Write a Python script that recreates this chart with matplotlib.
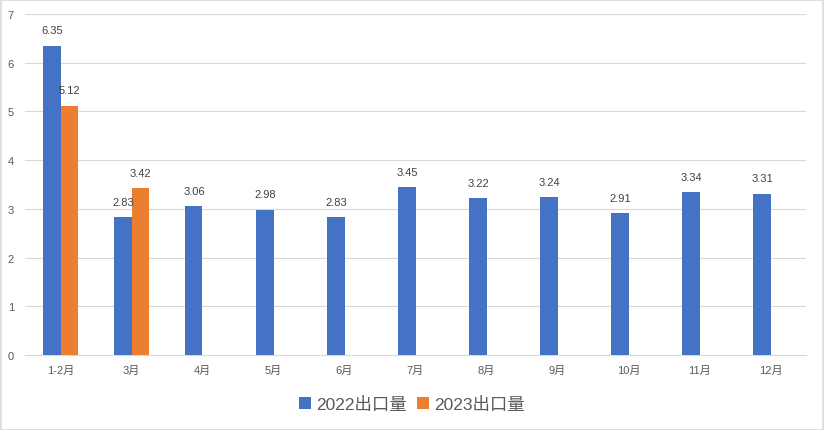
import matplotlib
matplotlib.use("Agg")
import matplotlib.pyplot as plt
import numpy as np

plt.rcParams['font.family'] = ['Liberation Sans', 'Noto Sans CJK SC', 'DejaVu Sans']

categories = ['1-2月', '3月', '4月', '5月', '6月', '7月', '8月', '9月', '10月', '11月', '12月']
exports_2022 = [6.35, 2.83, 3.06, 2.98, 2.83, 3.45, 3.22, 3.24, 2.91, 3.34, 3.31]
exports_2023 = [5.12, 3.42]
series_names = ['2022出口量', '2023出口量']
yticks = [0, 1, 2, 3, 4, 5, 6, 7]

blue = '#4472C4'
orange = '#ED7D31'
grid_c = '#D9D9D9'
text_c = '#595959'
label_c = '#404040'

fig = plt.figure(figsize=(8.24, 4.31), dpi=100)
ax = fig.add_axes([25/824, 1-356/431, (806-25)/824, (356-15)/431])

x = np.arange(len(categories))
w = 0.24
b1 = ax.bar(x - w/2, exports_2022, width=w, color=blue, label=series_names[0], zorder=3)
x2 = np.arange(len(exports_2023))
b2 = ax.bar(x2 + w/2, exports_2023, width=w, color=orange, label=series_names[1], zorder=3)

for rect, v in zip(b1, exports_2022):
    ax.annotate(f'{v:.2f}', (rect.get_x() + rect.get_width()/2, v), xytext=(0, 7.5),
                textcoords='offset points', ha='center', va='bottom', fontsize=8, color=label_c)
for rect, v in zip(b2, exports_2023):
    ax.annotate(f'{v:.2f}', (rect.get_x() + rect.get_width()/2, v), xytext=(0, 7.5),
                textcoords='offset points', ha='center', va='bottom', fontsize=8, color=label_c)

ax.set_xlim(-0.5, len(categories) - 0.5)
ax.set_ylim(0, 7)
ax.set_yticks(yticks)
ax.set_xticks(x)
ax.set_xticklabels(categories)
ax.tick_params(axis='both', length=0, labelsize=8, colors=text_c)
ax.tick_params(axis='y', pad=8)
ax.tick_params(axis='x', pad=7)
ax.grid(axis='y', color=grid_c, linewidth=0.8, zorder=0)
for s in ['top', 'right', 'left']:
    ax.spines[s].set_visible(False)
ax.spines['bottom'].set_color(grid_c)
ax.spines['bottom'].set_linewidth(0.8)

leg = fig.legend(loc='center', bbox_to_anchor=(0.5, 1-405/431), ncol=2, frameon=False,
                 fontsize=12.5, handlelength=0.7, handleheight=0.7, handletextpad=0.3,
                 columnspacing=0.6, labelcolor=text_c)

fig.patches.append(plt.Rectangle((0.001, 0.001), 0.998, 0.997, transform=fig.transFigure,
                                 fill=False, edgecolor=grid_c, linewidth=1.2))

fig.savefig('out.png', dpi=100)
